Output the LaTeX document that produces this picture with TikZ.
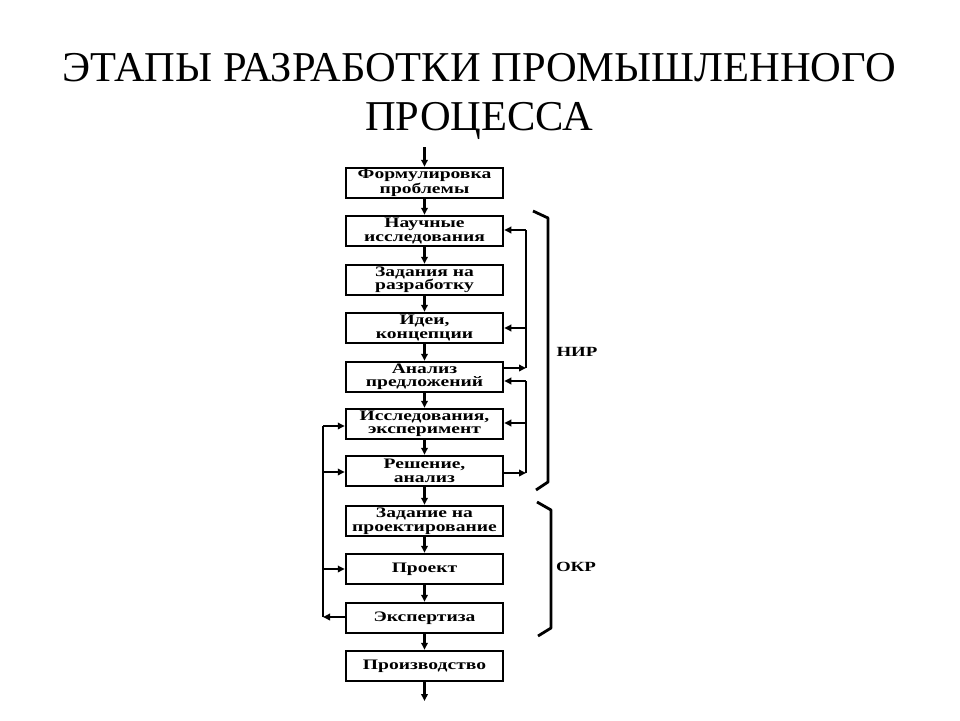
\documentclass[tikz,border=0pt]{standalone}
\usepackage{fontspec}
\setmainfont{Liberation Serif}
\newfontfamily\boxfont[FakeStretch=1.35]{Liberation Serif}
\usetikzlibrary{arrows.meta}
\begin{document}
\begin{tikzpicture}[x=1pt,y=-1pt,
 stage/.style={draw,line width=2.5pt,minimum width=157pt,minimum height=30pt,inner sep=1pt,align=center,font=\boxfont\bfseries\fontsize{14.5}{13.5}\selectfont},
 flow/.style={line width=2.2pt,-{Triangle[length=7pt,width=6.5pt]}},
 link/.style={line width=2.2pt},
 brace/.style={line width=2.8pt,line join=round},
 tag/.style={font=\boxfont\bfseries\fontsize{14}{14}\selectfont},
 title/.style={font=\fontsize{42.5}{49}\selectfont,anchor=base}]
\useasboundingbox (0,0) rectangle (960,720);
\node[title] (t1) at (479,81) {ЭТАПЫ РАЗРАБОТКИ ПРОМЫШЛЕННОГО};
\node[title] (t2) at (479,130) {ПРОЦЕССА};

\node[stage] (b1) at (424.5,183) {Формулировка\\проблемы};
\node[stage] (b2) at (424.5,231) {Научные\\исследования};
\node[stage] (b3) at (424.5,280) {Задания на\\разработку};
\node[stage] (b4) at (424.5,328) {Идеи,\\концепции};
\node[stage] (b5) at (424.5,377) {Анализ\\предложений};
\node[stage] (b6) at (424.5,424) {Исследования,\\эксперимент};
\node[stage] (b7) at (424.5,471) {Решение,\\анализ};
\node[stage] (b8) at (424.5,521) {Задание на\\проектирование};
\node[stage] (b9) at (424.5,569) {Проект};
\node[stage] (b10) at (424.5,618) {Экспертиза};
\node[stage] (b11) at (424.5,666) {Производство};

\coordinate (in) at (424.5,147);
\coordinate (out) at (424.5,701);
\draw[flow] (in) -- (b1);
\foreach \a/\b in {b1/b2,b2/b3,b3/b4,b4/b5,b5/b6,b6/b7,b7/b8,b8/b9,b9/b10,b10/b11}
  \draw[flow] (\a) -- (\b);
\draw[flow] (b11) -- (out);

% right loop A
\coordinate (ra1) at (526,368);
\coordinate (ra2) at (526,230);
\coordinate (ra3) at (526,328);
\draw[flow] (b5.east |- ra1) -- (ra1);
\draw[link] (ra1) -- (ra2);
\draw[flow] (ra2) -- (b2.east |- ra2);
\draw[flow] (ra3) -- (b4.east |- ra3);

% right loop B
\coordinate (rb1) at (526,473);
\coordinate (rb2) at (526,381);
\coordinate (rb3) at (526,423);
\draw[flow] (b7.east |- rb1) -- (rb1);
\draw[link] (rb1) -- (rb2);
\draw[flow] (rb2) -- (b5.east |- rb2);
\draw[flow] (rb3) -- (b6.east |- rb3);

% left loop
\coordinate (la1) at (323,617);
\coordinate (la2) at (323,426);
\coordinate (la3) at (323,472);
\coordinate (la4) at (323,569);
\draw[flow] (b10.west |- la1) -- (la1);
\draw[link] (la1) -- (la2);
\draw[flow] (la2) -- (b6.west |- la2);
\draw[flow] (la3) -- (b7.west |- la3);
\draw[flow] (la4) -- (b9.west |- la4);

% brackets
\draw[brace] (533,211) -- (548,218) -- (548,482) -- (536,490);
\draw[brace] (537,502) -- (551,510) -- (551,628) -- (538,636);
\node[tag] (nir) at (577,352) {НИР};
\node[tag] (okr) at (576,567) {ОКР};
\end{tikzpicture}
\end{document}
